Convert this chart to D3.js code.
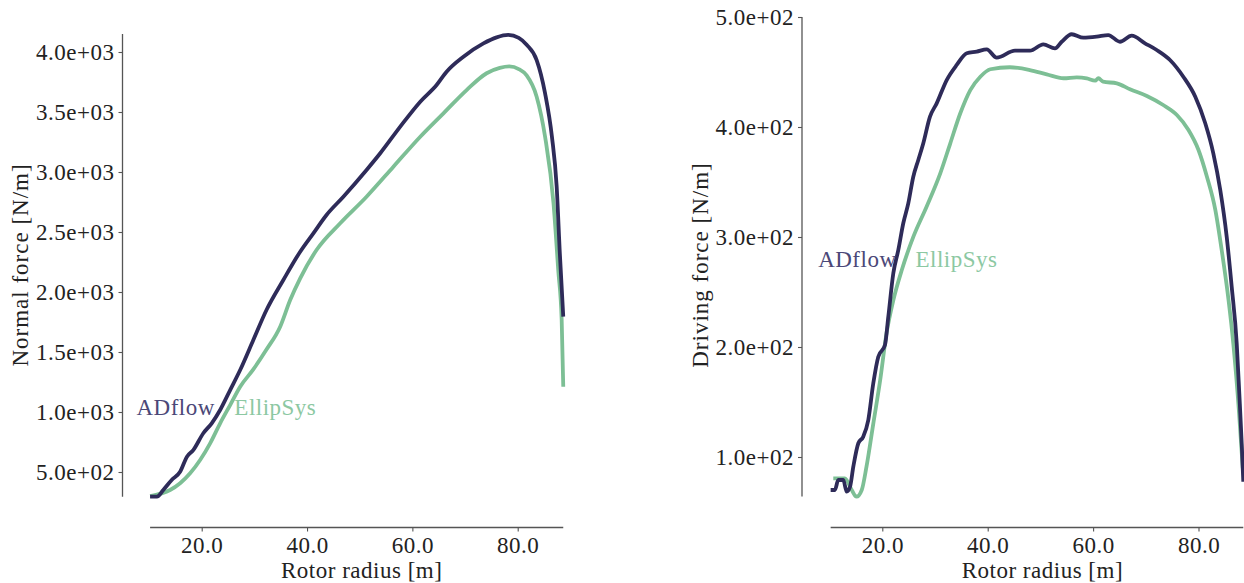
<!DOCTYPE html>
<html>
<head>
<meta charset="utf-8">
<script src="https://cdn.jsdelivr.net/npm/d3@7"></script>
<style>
  body { margin: 0; background: #fff; }
  svg text { font-family: "Liberation Serif", "DejaVu Serif", serif; letter-spacing: 0.5px; }
</style>
</head>
<body>
<div id="wrapper"></div>
<script>
// 1. Data

// normal force panel
const normalAdflowR = [10.2, 11.5, 12.7, 14.3, 15.9, 17.2, 18.4, 20.3, 21.9, 23.5, 25.4, 27.3, 29.8, 32.3, 35.5, 38.7, 41.2, 43.7, 46.9, 51.3, 53.9, 57.7, 61.5, 64.6, 66.5, 69.7, 73.5, 76.0, 78.2, 80.2, 81.7, 83.6, 85.2, 86.5, 87.4, 88.0, 88.65]
const normalAdflowF = [294, 294, 350, 433, 502, 628, 683, 823, 906, 1017, 1183, 1350, 1600, 1850, 2100, 2336, 2489, 2642, 2794, 3017, 3156, 3378, 3586, 3725, 3836, 3961, 4072, 4122, 4142, 4118, 4060, 3933, 3656, 3294, 2878, 2322, 1794]
const normalEllipR = [10.2, 12.4, 14.0, 15.9, 17.8, 19.7, 21.6, 23.5, 25.4, 27.3, 29.8, 32.3, 34.9, 36.8, 38.7, 41.8, 46.3, 51.3, 56.4, 61.5, 65.9, 70.3, 74.1, 76.6, 78.4, 80.2, 81.7, 83.6, 85.2, 86.8, 87.7, 88.35, 88.65]
const normalEllipF = [300, 322, 350, 406, 489, 600, 739, 906, 1058, 1211, 1355, 1520, 1711, 1933, 2114, 2350, 2573, 2794, 3044, 3294, 3489, 3683, 3823, 3868, 3880, 3858, 3805, 3628, 3294, 2739, 2183, 1767, 1211]

// driving force panel
const drivingAdflowR = [10.2, 11.0, 11.65, 12.6, 13.24, 13.88, 14.5, 15.45, 16.39, 17.34, 18.29, 19.24, 20.51, 21.14, 22.09, 23.04, 23.98, 24.93, 25.88, 26.83, 27.78, 29.05, 30.32, 32.22, 34.12, 36.02, 37.91, 39.81, 41.71, 45.18, 48.03, 50.55, 52.77, 54.04, 55.94, 58.14, 60.68, 62.88, 65.1, 67.32, 69.85, 72.07, 74.59, 77.12, 79.39, 81.28, 82.81, 84.13, 85.35, 86.3, 87.25, 87.74, 88.2, 88.5]
const drivingAdflowF = [70, 70, 79.1, 79.1, 68.5, 73, 91.2, 112.5, 118.5, 133.6, 167, 191.2, 201.8, 227.5, 267, 288.2, 312.5, 330.6, 354.8, 370, 385.2, 409.4, 421.5, 442.7, 456.4, 467, 468.5, 470.6, 463, 469.4, 469.4, 475.2, 471.5, 477.5, 484.3, 481.2, 482.1, 483.6, 477.5, 483, 476.1, 470, 460.9, 445.7, 427.5, 403.4, 376.1, 342.7, 300.3, 254.8, 203.4, 157.9, 112.5, 77.5]
const drivingEllipR = [10.7, 12.9, 14.2, 15.1, 16.1, 17.0, 18.3, 19.6, 20.8, 22.1, 23.7, 25.9, 28.4, 31.0, 32.9, 34.8, 36.7, 38.6, 40.5, 44.2, 48.0, 51.2, 54.4, 56.9, 58.8, 60.4, 61.0, 61.9, 64.5, 67.0, 70.2, 73.3, 75.9, 78.1, 80.0, 81.6, 83.2, 84.4, 85.7, 86.6, 87.7, 88.4]
const drivingEllipF = [80.6, 80.6, 70, 63.9, 70, 91.2, 130.6, 170, 212.5, 242.7, 270, 300.3, 327.5, 357.9, 385.2, 412.5, 433.6, 445.7, 452.5, 454.3, 451.8, 447.9, 444.3, 445.2, 444.3, 442.1, 444.3, 441.2, 439.7, 434.3, 428.2, 420, 410.9, 397.3, 379.1, 354.8, 324.5, 288.2, 242.7, 203.4, 140, 90]

const xTicks = [20, 40, 60, 80]
const normalTicks = [500, 1000, 1500, 2000, 2500, 3000, 3500, 4000]
const drivingTicks = [100, 200, 300, 400, 500]
const seriesNames = ["ADflow", "EllipSys"]

const zip = (xs, ys) => xs.map((x, i) => ({ r: x, f: ys[i] }))

// 2. Dimensions

const dimensions = { width: 1244, height: 583 }
const colors = { ADflow: "#2e2b59", EllipSys: "#7dbf95" }
const labelColors = { ADflow: "#4b4878", EllipSys: "#8cc8a2" }
const fontSize = "23px"

const panels = [
  {
    yLabel: "Normal force [N/m]",
    series: [zip(normalAdflowR, normalAdflowF), zip(normalEllipR, normalEllipF)],
    yTicks: normalTicks,
    yDomain: [500, 4000], yRange: [472, 52],
    xRange: [201.7, 517.7],
    ySpine: [294, 4150],
    spineX: 122.5,
    yLabelX: 20,
    labelY: 1040, labelAt: [22.5, 26.2],
  },
  {
    yLabel: "Driving force [N/m]",
    series: [zip(drivingAdflowR, drivingAdflowF), zip(drivingEllipR, drivingEllipF)],
    yTicks: drivingTicks,
    yDomain: [100, 500], yRange: [457, 17],
    xRange: [882.3, 1198.5],
    ySpine: [64, 500],
    spineX: 802,
    yLabelX: 700,
    labelY: 280, labelAt: [22.7, 26.3],
  },
]

const sciFormat = v => {
  const [m, e] = d3.format(".1e")(v).split("e")
  const sign = e[0] === "-" ? "-" : "+"
  const digits = e.replace(/[+-]/, "").padStart(2, "0")
  return `${m}e${sign}${digits}`
}

// 3. Canvas

const wrapper = d3.select("#wrapper")
  .append("svg")
    .attr("width", dimensions.width)
    .attr("height", dimensions.height)

const spineColor = "#555"
const xSpineY = 527.5

panels.forEach(p => {
  const xScale = d3.scaleLinear().domain([20, 80]).range(p.xRange)
  const yScale = d3.scaleLinear().domain(p.yDomain).range(p.yRange)
  const bounds = wrapper.append("g")

  // lines: EllipSys below, ADflow on top
  const lineGen = d3.line()
    .x(d => xScale(d.r))
    .y(d => yScale(d.f))
    .curve(d3.curveMonotoneX)

  ;[1, 0].forEach(i => {
    bounds.append("path")
      .datum(p.series[i])
      .attr("d", lineGen)
      .attr("fill", "none")
      .attr("stroke", colors[seriesNames[i]])
      .attr("stroke-width", 3.8)
      .attr("stroke-linejoin", "round")
  })

  // x axis (offset spine, bounded to the radius range)
  const allR = p.series.flatMap(s => s.map(d => d.r))
  const xAxis = bounds.append("g")
    .attr("transform", `translate(0, ${xSpineY})`)
    .call(d3.axisBottom(xScale).tickValues(xTicks).tickFormat(d3.format(".1f")).tickSize(4).tickPadding(5))
  xAxis.select(".domain").remove()
  xAxis.append("line")
    .attr("x1", xScale(d3.min(allR))).attr("x2", xScale(d3.max(allR)))
    .attr("stroke", spineColor).attr("stroke-width", 1.3)
  xAxis.selectAll(".tick line").attr("stroke", spineColor).attr("stroke-width", 1.1)
  xAxis.selectAll(".tick text")
    .attr("fill", "#222")
    .style("font-size", fontSize)

  xAxis.append("text")
    .attr("x", (p.xRange[0] + p.xRange[1]) / 2 + 2)
    .attr("y", 577.5 - xSpineY)
    .attr("fill", "#222")
    .attr("text-anchor", "middle")
    .style("font-size", fontSize)
    .text("Rotor radius [m]")

  // y axis
  const yAxis = bounds.append("g")
    .attr("transform", `translate(${p.spineX}, 0)`)
    .call(d3.axisLeft(yScale).tickValues(p.yTicks).tickFormat(sciFormat).tickSize(4).tickPadding(4))
  yAxis.select(".domain").remove()
  yAxis.append("line")
    .attr("y1", yScale(p.ySpine[0])).attr("y2", yScale(p.ySpine[1]))
    .attr("stroke", spineColor).attr("stroke-width", 1.3)
  yAxis.selectAll(".tick line").attr("stroke", spineColor).attr("stroke-width", 1.1)
  yAxis.selectAll(".tick text")
    .attr("fill", "#222")
    .style("font-size", fontSize)

  bounds.append("text")
    .attr("transform", `translate(${p.yLabelX}, 265) rotate(-90)`)
    .attr("text-anchor", "middle")
    .attr("dominant-baseline", "central")
    .attr("fill", "#222")
    .style("font-size", fontSize)
    .style("letter-spacing", "1px")
    .text(p.yLabel)

  // inline series labels
  seriesNames.forEach((name, i) => {
    bounds.append("text")
      .attr("x", xScale(p.labelAt[i]))
      .attr("y", yScale(p.labelY))
      .attr("text-anchor", i === 0 ? "end" : "start")
      .attr("dominant-baseline", "central")
      .attr("fill", labelColors[name])
      .style("font-size", fontSize)
      .text(name)
  })
})
</script>
</body>
</html>
